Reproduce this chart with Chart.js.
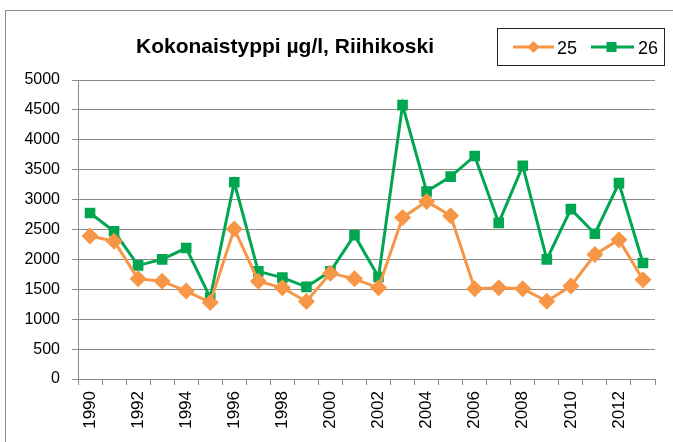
<!DOCTYPE html>
<html>
<head>
<meta charset="utf-8">
<script src="https://cdn.jsdelivr.net/npm/chart.js@4"></script>
<style>
  html, body { margin: 0; padding: 0; background: #fff; }
  #wrap { position: relative; width: 673px; height: 442px; overflow: hidden; }
  #frame { position: absolute; left: 5px; top: 10px; width: 700px; height: 500px; border: 1px solid #8c8c8c; box-sizing: border-box; }
  #chart { position: absolute; left: 0; top: 0; }
  #title { position: absolute; left: 85px; width: 400px; top: 34px; text-align: center;
    font: bold 21px "Liberation Sans Narrow", "Liberation Sans", sans-serif; color: #000; }
  #legend { position: absolute; left: 497px; top: 28px; width: 168px; height: 38px; box-sizing: border-box;
    border: 1px solid #222; background: #fff; font: 18px "Liberation Sans", sans-serif; color: #000; }
  #legend svg { position: absolute; left: 0; top: 0; }
</style>
</head>
<body>
<div id="wrap">
  <div id="frame"></div>
  <canvas id="chart" width="673" height="442"></canvas>
  <div id="title">Kokonaistyppi µg/l, Riihikoski</div>
  <div id="legend"></div>
</div>
<script>
const YEARS = ["1990","1991","1992","1993","1994","1995","1996","1997","1998","1999","2000","2001",
  "2002","2003","2004","2005","2006","2007","2008","2009","2010","2011","2012","2013"];
const SERIES_NAMES = ["25", "26"];
const S25 = [2390, 2305, 1675, 1635, 1470, 1280, 2510, 1635, 1525, 1295, 1770, 1675,
  1525, 2700, 2970, 2730, 1510, 1525, 1510, 1300, 1555, 2080, 2330, 1660];
const S26 = [2775, 2470, 1900, 2000, 2190, 1360, 3290, 1800, 1695, 1540, 1800, 2405,
  1705, 4580, 3135, 3385, 3730, 2610, 3565, 2000, 2840, 2430, 3275, 1940];
const Y_TICKS = [0, 500, 1000, 1500, 2000, 2500, 3000, 3500, 4000, 4500, 5000];

const ORANGE = "#f79646";
const GREEN = "#00a650";
const GRID = "#8a8a8a";

// legend drawn in html with a border like the excel box
function legendSvg() {
  const diamond = (cx, cy, r) => `<polygon points="${cx-r},${cy} ${cx},${cy-r} ${cx+r},${cy} ${cx},${cy+r}" fill="${ORANGE}"/>`;
  return `<svg width="168" height="38">
    <line x1="15" y1="18" x2="56" y2="18" stroke="${ORANGE}" stroke-width="3"/>
    ${diamond(35.5, 18, 6)}
    <text x="59" y="25" font-family="Liberation Sans, sans-serif" font-size="18">${SERIES_NAMES[0]}</text>
    <line x1="93" y1="18" x2="136" y2="18" stroke="${GREEN}" stroke-width="3"/>
    <rect x="108.5" y="13" width="10" height="10" fill="${GREEN}"/>
    <text x="140" y="25" font-family="Liberation Sans, sans-serif" font-size="18">${SERIES_NAMES[1]}</text>
  </svg>`;
}
document.getElementById("legend").innerHTML = legendSvg();

new Chart(document.getElementById("chart"), {
  type: "line",
  data: {
    labels: YEARS,
    datasets: [
      {
        label: SERIES_NAMES[0],
        data: S25,
        borderColor: ORANGE,
        backgroundColor: ORANGE,
        borderWidth: 3,
        pointStyle: "rectRot",
        pointRadius: 8.5,
        pointBorderWidth: 0,
        tension: 0,
      },
      {
        label: SERIES_NAMES[1],
        data: S26,
        borderColor: GREEN,
        backgroundColor: GREEN,
        borderWidth: 3,
        pointStyle: "rect",
        pointRadius: 7.5,
        pointBorderWidth: 0,
        tension: 0,
      },
    ],
  },
  options: {
    responsive: false,
    animation: false,
    layout: { padding: { left: 0, right: 18, top: 80, bottom: 0 } },
    plugins: { legend: { display: false }, title: { display: false }, tooltip: { enabled: false } },
    scales: {
      x: {
        type: "category",
        offset: true,
        grid: { offset: true, drawOnChartArea: false, drawTicks: true, tickLength: 6, color: GRID },
        border: { display: true, color: GRID, width: 1 },
        ticks: {
          autoSkip: false,
          maxRotation: 90,
          minRotation: 90,
          padding: 6,
          color: "#000",
          font: { family: "Liberation Sans", size: 17 },
          callback: function (v, i) { return i % 2 === 0 ? YEARS[i] : ""; },
        },
        afterFit: s => { s.height = 63; },
      },
      y: {
        min: 0,
        max: 5000,
        afterBuildTicks: s => { s.ticks = Y_TICKS.map(v => ({ value: v })); },
        grid: { color: GRID, tickLength: 6, drawTicks: true },
        border: { display: true, color: GRID, width: 1 },
        ticks: {
          padding: 12,
          color: "#000",
          font: { family: "Liberation Sans", size: 16 },
          callback: v => String(v),
        },
        afterFit: s => { s.width = 78; },
      },
    },
  },
});
</script>
</body>
</html>
